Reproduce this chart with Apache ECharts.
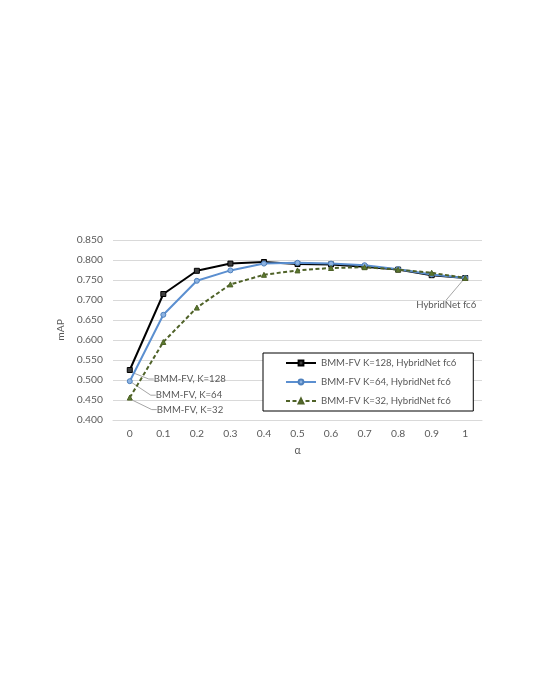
<!DOCTYPE html>
<html>
<head>
<meta charset="utf-8">
<script src="https://cdn.jsdelivr.net/npm/echarts@6/dist/echarts.min.js"></script>
<style>
html,body{margin:0;padding:0;background:#fff;}
#c{width:540px;height:699px;}
</style>
</head>
<body>
<div id="c"></div>
<script>
var categories = ['0','0.1','0.2','0.3','0.4','0.5','0.6','0.7','0.8','0.9','1'];
var k128 = [0.525, 0.715, 0.773, 0.791, 0.795, 0.790, 0.789, 0.783, 0.776, 0.762, 0.755];
var k64  = [0.497, 0.663, 0.748, 0.774, 0.791, 0.793, 0.791, 0.787, 0.777, 0.764, 0.755];
var k32  = [0.456, 0.595, 0.681, 0.739, 0.763, 0.774, 0.780, 0.782, 0.776, 0.768, 0.755];
var seriesNames = ['BMM-FV K=128, HybridNet fc6', 'BMM-FV K=64, HybridNet fc6', 'BMM-FV K=32, HybridNet fc6'];
var startLabels = ['BMM-FV, K=128', 'BMM-FV, K=64', 'BMM-FV, K=32'];
var endLabel = 'HybridNet fc6';

var FONT = 'Lato';
var TXT = '#595959';
var LEADER = '#a6a6a6';

function withLabels(values, startText, addEnd) {
  return values.map(function (v, i) {
    if (i === 0) {
      return { value: v, label: { show: true, position: 'right', formatter: startText } };
    }
    if (addEnd && i === values.length - 1) {
      return { value: v, label: { show: true, position: 'bottom', formatter: endLabel }, labelLine: { length2: 0 } };
    }
    return v;
  });
}

function layoutFor(offsets, endOffset) {
  return function (p) {
    if (p.dataIndex === 0) return { dx: offsets[0], dy: offsets[1] };
    if (endOffset && p.dataIndex === categories.length - 1) return { dx: endOffset[0], dy: endOffset[1] };
    return {};
  };
}

var labelBase = { color: TXT, fontFamily: FONT, fontSize: 9.6 };
var labelLineBase = { show: true, length2: 5, lineStyle: { color: LEADER, width: 1 } };

var chart = echarts.init(document.getElementById('c'), null, { renderer: 'canvas' });
chart.setOption({
  backgroundColor: '#ffffff',
  animation: false,
  textStyle: { fontFamily: FONT },
  grid: { left: 113, right: 58, top: 240, bottom: 279, containLabel: false },
  legend: {
    orient: 'vertical',
    left: 263,
    top: 353,
    data: seriesNames,
    backgroundColor: '#ffffff',
    borderColor: '#000000',
    borderWidth: 1,
    borderRadius: 0,
    padding: [5, 17, 5, 22],
    itemWidth: 30,
    itemHeight: 6,
    itemGap: 9,
    textStyle: { color: TXT, fontFamily: FONT, fontSize: 9.6 }
  },
  xAxis: {
    type: 'category',
    data: categories,
    boundaryGap: true,
    name: 'α',
    nameLocation: 'middle',
    nameGap: 25,
    nameTextStyle: { color: TXT, fontFamily: FONT, fontSize: 10.5 },
    axisLine: { show: true, lineStyle: { color: '#d9d9d9', width: 1 } },
    axisTick: { show: false },
    axisLabel: { color: TXT, fontFamily: FONT, fontSize: 10.3, margin: 9 },
    splitLine: { show: false }
  },
  yAxis: {
    type: 'value',
    min: 0.4,
    max: 0.85,
    interval: 0.05,
    name: 'mAP',
    nameLocation: 'middle',
    nameGap: 29,
    nameTextStyle: { color: TXT, fontFamily: FONT, fontSize: 10.3 },
    axisLine: { show: false },
    axisTick: { show: false },
    axisLabel: { color: TXT, fontFamily: FONT, fontSize: 10.3, margin: 10, formatter: function (v) { return v.toFixed(3); } },
    splitLine: { show: true, lineStyle: { color: '#d9d9d9', width: 1 } }
  },
  series: [
    {
      name: seriesNames[0],
      type: 'line',
      data: withLabels(k128, startLabels[0], true),
      symbol: 'rect',
      symbolSize: 5,
      showAllSymbol: true,
      lineStyle: { color: '#000000', width: 2 },
      itemStyle: { color: '#3f3f3f', borderColor: '#000000', borderWidth: 1 },
      label: labelBase,
      labelLine: labelLineBase,
      labelLayout: layoutFor([16, 9], [-19, 14]),
      z: 3
    },
    {
      name: seriesNames[1],
      type: 'line',
      data: withLabels(k64, startLabels[1], false),
      symbol: 'circle',
      symbolSize: 5,
      showAllSymbol: true,
      lineStyle: { color: '#5b8fd0', width: 2 },
      itemStyle: { color: '#8db3e2', borderColor: '#4f81bd', borderWidth: 1 },
      label: labelBase,
      labelLine: labelLineBase,
      labelLayout: layoutFor([18, 14]),
      z: 4
    },
    {
      name: seriesNames[2],
      type: 'line',
      data: withLabels(k32, startLabels[2], false),
      symbol: 'triangle',
      symbolSize: 5,
      showAllSymbol: true,
      lineStyle: { color: '#4f6228', width: 2, type: [4, 2.5] },
      itemStyle: { color: '#5a7a2e', borderColor: '#4f6228', borderWidth: 1 },
      label: labelBase,
      labelLine: labelLineBase,
      labelLayout: layoutFor([19, 12]),
      z: 5
    }
  ]
});
</script>
</body>
</html>
